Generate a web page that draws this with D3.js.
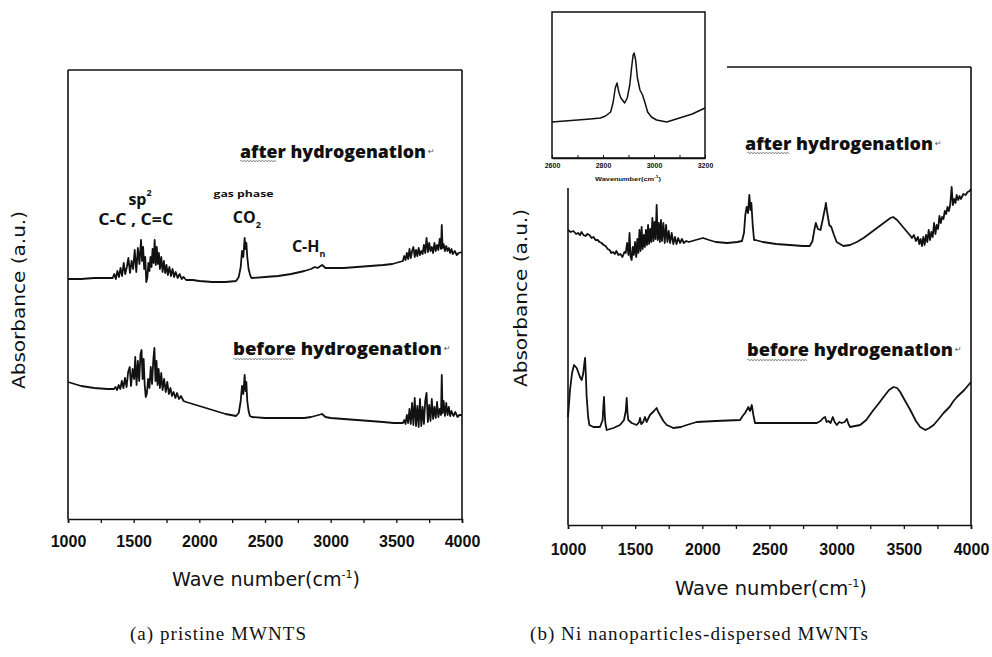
<!DOCTYPE html>
<html><head><meta charset="utf-8">
<script src="https://cdn.jsdelivr.net/npm/d3@7"></script>
<style>body{margin:0;background:#fff;} svg{display:block}</style>
</head><body>
<svg id="c" width="992" height="657"></svg>
<script>
// ---------------- DATA ----------------
const xTicks = [1000,1250,1500,1750,2000,2250,2500,2750,3000,3250,3500,3750,4000];
const xTickLabels = ["1000","1500","2000","2500","3000","3500","4000"];
const insetTicks = [2600,2700,2800,2900,3000,3100,3200];
const insetTickLabels = ["2600","2800","3000","3200"];
const captions = ["(a) pristine MWNTS", "(b) Ni nanoparticles-dispersed MWNTs"];
const seriesNames = ["after hydrogenation", "before hydrogenation"];

// (a) pristine MWNTs, after hydrogenation  [wavenumber, absorbance a.u.]
const leftAfter = [
[1000,240],[1100,240],[1200,241],[1300,241],[1340,241],
[1352,245],[1364,240],[1376,248],[1388,242],[1400,251],[1412,243],[1424,256],[1436,245],[1448,252],[1460,261],[1472,246],[1484,258],[1496,250],[1508,269],[1520,247],[1532,271],[1544,255],[1556,279],[1564,258],[1572,272],[1580,250],[1588,262],[1596,237],[1604,241],[1612,256],[1620,248],[1628,262],[1636,252],[1644,270],[1652,256],[1660,279],[1668,254],[1676,272],[1684,255],[1692,266],[1700,250],[1710,262],[1720,247],[1730,258],[1740,246],[1750,254],[1760,244],[1772,252],[1784,243],[1796,250],[1808,242],[1820,247],[1835,241],[1850,245],[1865,240],[1880,242],[1900,239],
[1950,239],[2000,238],[2100,237],[2200,237],[2280,238],[2300,242],[2315,252],[2325,268],[2335,262],[2345,281],[2352,270],[2358,276],[2365,262],[2375,250],[2385,245],[2392,242],[2400,241],
[2500,242],[2600,243],[2700,245],[2800,248],[2850,250],[2880,252],[2900,251],[2935,254],[2960,251],[3000,251],[3100,251],[3200,252],[3300,253],[3400,254],[3470,255],
[3550,258],[3560,263],[3570,259],[3580,266],[3590,260],[3600,270],[3610,261],[3620,268],[3630,272],[3640,262],[3650,269],[3660,263],[3670,271],[3680,264],[3690,268],[3700,265],[3710,274],[3720,266],[3730,281],[3740,267],[3750,276],[3760,268],[3770,272],[3780,266],[3790,276],[3800,268],[3810,274],[3820,269],[3830,280],[3840,270],[3846,294],[3852,271],[3860,275],[3870,268],[3880,273],[3890,268],[3900,271],[3910,266],[3920,270],[3930,265],[3945,268],[3960,264],[3975,266],[4000,267]
];

// (a) pristine MWNTs, before hydrogenation
const leftBefore = [
[1000,137],[1050,135],[1100,133],[1200,131],[1300,130],[1350,130],
[1362,132],[1374,129],[1386,134],[1398,130],[1410,138],[1422,131],[1434,141],[1446,132],[1458,147],[1470,152],[1480,133],[1492,150],[1504,140],[1512,162],[1522,134],[1532,158],[1542,138],[1552,165],[1560,169],[1568,140],[1576,160],[1584,134],[1592,122],[1600,125],[1610,140],[1620,131],[1630,152],[1640,135],[1650,160],[1658,171],[1666,138],[1674,158],[1682,134],[1690,150],[1700,131],[1710,146],[1720,129],[1732,140],[1744,127],[1756,137],[1768,125],[1780,131],[1792,123],[1804,127],[1818,121],[1830,126],[1845,120],[1860,123],[1880,118],[1900,117],
[1950,115],[2000,113],[2100,109],[2200,105],[2280,103],[2300,106],[2315,118],[2325,133],[2335,125],[2345,144],[2352,128],[2358,137],[2365,118],[2375,108],[2385,103],[2400,102],
[2500,101],[2600,101],[2700,101],[2800,101],[2850,102],[2880,103],[2935,105],[2960,102],[3000,101],[3100,100],[3200,99],[3300,98],[3400,97],[3480,96],
[3550,96],[3560,99],[3570,95],[3580,104],[3590,96],[3600,110],[3610,95],[3620,116],[3630,94],[3640,121],[3650,93],[3660,113],[3670,92],[3680,120],[3690,93],[3700,112],[3710,95],[3720,118],[3730,126],[3740,97],[3750,114],[3760,98],[3770,120],[3780,100],[3790,112],[3800,101],[3810,117],[3820,102],[3830,110],[3840,104],[3846,144],[3852,106],[3860,118],[3870,103],[3880,116],[3890,104],[3900,112],[3910,103],[3920,108],[3935,103],[3950,107],[3965,102],[3980,104],[4000,104]
];

// (b) Ni-dispersed MWNTs, after hydrogenation
const rightAfter = [
[1000,295],[1020,293],[1040,294],[1060,291],[1075,292],[1090,290],[1100,293],[1115,290],[1130,289],[1145,291],[1160,290],[1175,287],[1190,288],[1205,285],[1220,285],[1235,283],[1250,282],[1265,280],[1280,279],[1295,276],[1310,275],[1322,272],[1335,273],[1348,271],[1360,274],[1375,270],[1390,271],[1405,268],[1420,273],
[1430,272],[1440,282],[1450,270],[1458,292],[1466,268],[1474,265],[1482,278],[1490,270],[1499,283],[1508,268],[1516,286],[1524,272],[1532,295],[1540,274],[1548,298],[1556,276],[1564,290],[1572,278],[1580,295],[1588,280],[1596,300],[1604,281],[1612,296],[1620,283],[1628,307],[1636,284],[1644,303],[1652,286],[1660,320],[1668,285],[1676,302],[1684,283],[1692,305],[1700,284],[1710,302],[1720,282],[1730,300],[1740,283],[1750,294],[1760,282],[1772,292],[1784,281],[1796,288],[1808,281],[1820,287],[1834,282],[1848,286],[1862,282],[1880,284],[1900,283],
[1950,285],[2005,287],[2050,285],[2100,283],[2185,282],[2260,283],[2295,284],[2310,292],[2320,310],[2330,318],[2340,312],[2350,330],[2358,315],[2365,322],[2375,300],[2385,285],[2395,285],
[2450,283],[2550,281],[2650,280],[2750,279],[2800,279],[2820,284],[2835,296],[2845,302],[2860,296],[2880,295],[2900,308],[2915,318],[2920,322],[2930,312],[2945,300],[2960,298],[2980,290],[3000,283],[3050,279],
[3100,280],[3150,283],[3200,287],[3250,292],[3300,297],[3350,302],[3400,307],[3420,308],[3450,305],[3500,297],[3550,289],
[3560,287],[3575,290],[3590,284],[3605,288],[3615,281],[3625,286],[3635,279],[3645,288],[3655,280],[3665,290],[3675,283],[3685,295],[3695,285],[3705,293],[3715,288],[3725,302],[3735,291],[3745,300],[3755,296],[3765,309],[3775,302],[3785,308],[3795,306],[3805,314],[3815,311],[3825,318],[3835,314],[3845,320],[3856,338],[3865,320],[3875,326],[3885,322],[3893,330],[3905,325],[3915,329],[3925,326],[3943,331],[3960,330],[3975,333],[3990,334],[4000,336]
];

// (b) Ni-dispersed MWNTs, before hydrogenation
const rightBefore = [
[1000,108],[1015,135],[1030,152],[1045,160],[1065,157],[1089,148],[1102,145],[1114,152],[1122,162],[1127,167],[1133,150],[1139,128],[1150,108],[1159,100],[1189,98],[1238,98],[1258,105],[1263,118],[1268,128],[1273,112],[1278,102],[1288,95],[1338,97],[1387,100],[1417,105],[1430,114],[1437,127],[1443,112],[1449,105],[1474,102],[1511,100],[1530,103],[1536,107],[1545,101],[1560,103],[1573,108],[1585,103],[1610,110],[1640,114],[1660,117],[1672,113],[1685,110],[1710,104],[1735,100],[1784,97],[1840,98],[1884,100],[1958,103],[2100,104],[2281,105],[2300,109],[2318,112],[2343,118],[2355,114],[2368,120],[2380,110],[2392,102],
[2500,102],[2678,102],[2852,102],[2880,104],[2900,107],[2914,108],[2925,103],[2939,104],[2955,102],[2971,108],[2985,103],[3001,100],[3020,103],[3038,102],[3060,103],[3076,106],[3088,101],[3100,98],[3175,100],[3220,105],[3274,115],[3310,121],[3349,128],[3390,135],[3423,138],[3450,137],[3473,133],[3510,124],[3548,115],[3590,104],[3622,98],[3660,95],[3690,97],[3722,100],[3760,106],[3796,112],[3840,118],[3870,124],[3895,128],[3950,135],[4000,143]
];

// inset (b): C-H stretching region, after hydrogenation
const insetCurve = [
[2600,36],[2650,37],[2700,38],[2750,39],[2790,40],[2810,42],[2830,46],[2840,56],[2848,70],[2855,75],[2862,66],[2870,60],[2885,55],[2895,60],[2905,73],[2912,90],[2918,103],[2922,105],[2928,98],[2935,80],[2945,68],[2955,63],[2965,55],[2975,46],[2990,41],[3010,38],[3050,36],[3100,40],[3150,44],[3200,50]
];

// --------------- DRAWING ---------------
const svg = d3.select('#c');
const INK = '#111';
const tickFont = '"Liberation Sans", Arial, sans-serif';
const titleFont = '"DejaVu Sans", sans-serif';
const labelFont = '"Open Sans", Lato, sans-serif';

const line = (x, y) => d3.line().x(d => x(d[0])).y(d => y(d[1]));

function wavy(x1, x2, yy) {
  let p = `M${x1},${yy}`;
  let up = true;
  for (let xx = x1 + 1.5; xx <= x2; xx += 1.5) { p += `L${xx},${yy + (up ? -1 : 1)}`; up = !up; }
  svg.append('path').attr('d', p).attr('fill', 'none').attr('stroke', '#777').attr('stroke-width', 0.8);
}

function seriesLabel(text, xStart, baseline, width) {
  svg.append('text').attr('x', xStart).attr('y', baseline)
    .attr('font-family', labelFont).attr('font-weight', 800).attr('font-size', 18)
    .attr('fill', INK).attr('textLength', width).attr('lengthAdjust', 'spacingAndGlyphs').text(text);
  svg.append('text').attr('x', xStart + width + 2).attr('y', baseline - 4)
    .attr('font-family', '"DejaVu Sans"').attr('font-size', 8).attr('fill', '#555').text('\u21B5');
}

function panel(cfg) {
  const x = d3.scaleLinear().domain([1000, 4000]).range([cfg.x0, cfg.x1]);
  const y = d3.scaleLinear().domain([0, cfg.ymax]).range([cfg.yb, cfg.yt]);
  cfg.frame.forEach(s => svg.append('line').attr('x1', s[0]).attr('y1', s[1]).attr('x2', s[2]).attr('y2', s[3])
    .attr('stroke', INK).attr('stroke-width', 1.6));
  const ax = svg.append('g').attr('transform', `translate(0,${cfg.yb})`)
    .call(d3.axisBottom(x).tickValues(xTicks).tickSize(4)
      .tickFormat(d => xTickLabels.includes(String(d)) ? String(d) : ''));
  ax.select('.domain').attr('stroke', INK).attr('stroke-width', 1.6);
  ax.selectAll('.tick line').attr('stroke', INK).attr('stroke-width', 1.3);
  ax.selectAll('.tick text').attr('y', cfg.labelOff).attr('font-family', tickFont)
    .attr('font-weight', 'bold').attr('font-size', 16).attr('fill', INK);
  cfg.series.forEach(s => svg.append('path').datum(s).attr('d', line(x, y))
    .attr('fill', 'none').attr('stroke', INK).attr('stroke-width', 1.8).attr('stroke-linejoin', 'round'));
  const xt = svg.append('text').attr('x', cfg.titleX).attr('y', cfg.titleY).attr('font-family', titleFont)
    .attr('font-size', 19).attr('fill', INK).attr('textLength', cfg.titleW).attr('lengthAdjust', 'spacingAndGlyphs');
  xt.append('tspan').text('Wave number(cm');
  xt.append('tspan').attr('dy', -8).attr('font-size', 11).text('-1');
  xt.append('tspan').attr('dy', 8).text(')');
  svg.append('text').attr('transform', `translate(${cfg.ylabX},${cfg.ylabY}) rotate(-90)`)
    .attr('text-anchor', 'middle').attr('font-family', titleFont).attr('font-size', 18).attr('fill', INK)
    .attr('textLength', 178).attr('lengthAdjust', 'spacingAndGlyphs').text('Absorbance (a.u.)');
  return {x, y};
}

// Panel (a)
const A = panel({x0: 68, x1: 462, yb: 519, yt: 70, ymax: 449, labelOff: 17,
  frame: [[68,70,462,70],[462,70,462,519],[68,70,68,519]],
  series: [leftAfter, leftBefore], titleX: 172, titleY: 586, titleW: 188, ylabX: 25, ylabY: 300});

// Panel (b)
const B = panel({x0: 568, x1: 971, yb: 525, yt: 67, ymax: 458, labelOff: 19,
  frame: [[727,67,971,67],[971,67,971,525],[568,188,568,525]],
  series: [rightAfter, rightBefore], titleX: 675, titleY: 595, titleW: 192, ylabX: 527, ylabY: 298});

// series labels
seriesLabel(seriesNames[0], 240, 158, 186); wavy(240, 277, 161);
seriesLabel(seriesNames[1], 233, 355, 209); wavy(233, 293, 359);
seriesLabel(seriesNames[0], 745, 150, 188); wavy(747, 790, 153);
seriesLabel(seriesNames[1], 747, 356, 206); wavy(747, 808, 360);

// peak annotations in panel (a)
function ann(wn, v, size, anchor, w) {
  const el = svg.append('text').attr('x', A.x(wn)).attr('y', A.y(v)).attr('text-anchor', anchor || 'start')
    .attr('font-family', labelFont).attr('font-size', size).attr('font-weight', 'bold').attr('fill', INK);
  if (w) el.attr('textLength', w).attr('lengthAdjust', 'spacingAndGlyphs');
  return el;
}
const sp = ann(1460, 314, 16);
sp.append('tspan').text('sp');
sp.append('tspan').attr('dy', -9).attr('font-size', 9).text('2');
ann(1230, 294, 16, 'start', 75).text('C-C , C=C');
ann(2108, 322, 8, 'start', 60).text('gas phase');
const co = ann(2255, 296, 16);
co.append('tspan').text('CO');
co.append('tspan').attr('dy', 5).attr('font-size', 9).text('2');
const ch = ann(2705, 267, 16);
ch.append('tspan').text('C-H');
ch.append('tspan').attr('dy', 5).attr('font-size', 9).text('n');

// inset
const xi = d3.scaleLinear().domain([2600, 3200]).range([552, 705]);
const yi = d3.scaleLinear().domain([0, 146]).range([158, 12]);
svg.append('rect').attr('x', 552).attr('y', 12).attr('width', 153).attr('height', 146)
  .attr('fill', '#fff').attr('stroke', INK).attr('stroke-width', 1.5);
const ia = svg.append('g').attr('transform', 'translate(0,158)')
  .call(d3.axisBottom(xi).tickValues(insetTicks).tickSizeInner(-3).tickSizeOuter(0)
    .tickFormat(d => insetTickLabels.includes(String(d)) ? String(d) : ''));
ia.select('.domain').attr('stroke', INK).attr('stroke-width', 1.5);
ia.selectAll('.tick line').attr('stroke', INK);
ia.selectAll('.tick text').attr('y', 5).attr('font-family', tickFont).attr('font-weight', 'bold')
  .attr('font-size', 7).attr('fill', INK);
svg.append('path').datum(insetCurve).attr('d', line(xi, yi)).attr('fill', 'none')
  .attr('stroke', INK).attr('stroke-width', 1.5).attr('stroke-linejoin', 'round');
const it = svg.append('text').attr('x', 595).attr('y', 181).attr('font-family', tickFont)
  .attr('font-weight', 'bold').attr('font-size', 6).attr('fill', INK)
  .attr('textLength', 66).attr('lengthAdjust', 'spacingAndGlyphs');
it.append('tspan').text('Wavenumber(cm');
it.append('tspan').attr('dy', -3).attr('font-size', 4).text('-1');
it.append('tspan').attr('dy', 3).text(')');

// captions
const serif = '"Liberation Serif", "Times New Roman", serif';
svg.append('text').attr('x', 130).attr('y', 640).attr('font-family', serif)
  .attr('font-size', 19).attr('fill', INK).attr('textLength', 176).attr('lengthAdjust', 'spacing').text(captions[0]);
svg.append('text').attr('x', 530).attr('y', 640).attr('font-family', serif)
  .attr('font-size', 19).attr('fill', INK).attr('textLength', 338).attr('lengthAdjust', 'spacing').text(captions[1]);
</script>
</body></html>
